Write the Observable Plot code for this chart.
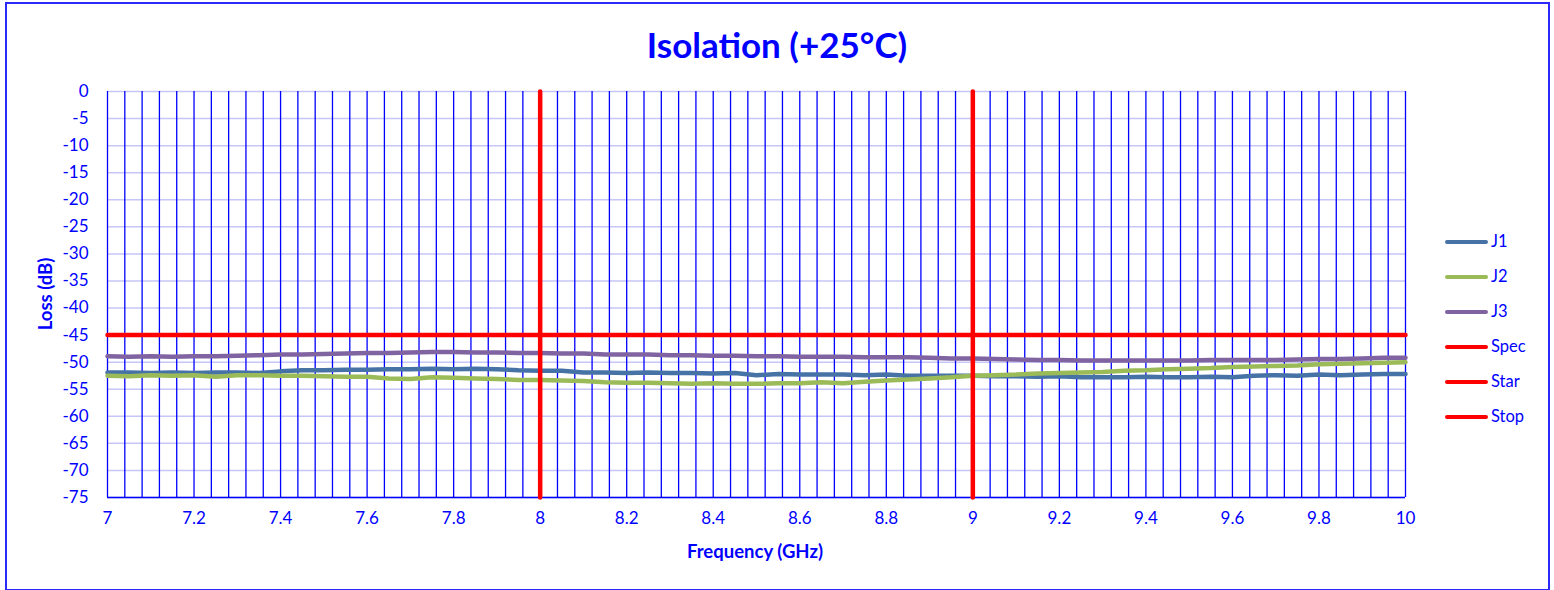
<!DOCTYPE html>
<html><head><meta charset="utf-8">
<script src="https://cdn.jsdelivr.net/npm/d3@7"></script>
<script src="https://cdn.jsdelivr.net/npm/@observablehq/plot@0.6"></script>
<style>
body{margin:0;background:#fff;}
#wrap{position:relative;width:1554px;height:590px;font-family:Lato,"Open Sans",sans-serif;color:#0000ff;overflow:hidden;}
#border{position:absolute;left:5px;top:2px;width:1545px;height:589px;border:2px solid #2a2aff;box-sizing:border-box;pointer-events:none;}
#chart{position:absolute;left:0;top:0;}
#title{position:absolute;left:0;width:1554px;top:22px;text-align:center;font-weight:bold;font-size:35px;line-height:44px;}
#xlabel{position:absolute;left:605px;width:300px;top:539px;text-align:center;font-weight:bold;font-size:18.5px;line-height:24px;}
#ylabel{position:absolute;left:45px;top:294px;transform:translate(-50%,-50%) rotate(-90deg);font-weight:bold;font-size:18.5px;line-height:24px;white-space:nowrap;}
.leg{position:absolute;left:1445px;height:20px;font-size:16.5px;line-height:20px;white-space:nowrap;}
.leg span.sw{display:inline-block;width:43px;height:4px;border-radius:2px;vertical-align:middle;margin-right:3px;position:relative;top:-1px;}
</style></head>
<body>
<div id="wrap">
  <div id="chart"></div>
  <div id="title">Isolation (+25°C)</div>
  <div id="xlabel">Frequency (GHz)</div>
  <div id="ylabel">Loss (dB)</div>
  <div id="legend"></div>
  <div id="border"></div>
</div>
<script>
const freq = [7.00,7.05,7.10,7.15,7.20,7.25,7.30,7.35,7.40,7.45,7.50,7.55,7.60,7.65,7.70,7.75,7.80,7.85,7.90,7.95,
  8.00,8.05,8.10,8.15,8.20,8.25,8.30,8.35,8.40,8.45,8.50,8.55,8.60,8.65,8.70,8.75,8.80,8.85,8.90,8.95,
  9.00,9.05,9.10,9.15,9.20,9.25,9.30,9.35,9.40,9.45,9.50,9.55,9.60,9.65,9.70,9.75,9.80,9.85,9.90,9.95,10.00];
const J1 = [-51.9,-51.9,-52.0,-51.9,-52.0,-51.9,-51.9,-52.0,-51.7,-51.5,-51.5,-51.4,-51.4,-51.3,-51.3,-51.2,-51.3,-51.2,-51.3,-51.5,
  -51.6,-51.6,-51.9,-51.9,-52.0,-51.9,-52.0,-52.0,-52.1,-52.0,-52.4,-52.2,-52.3,-52.3,-52.3,-52.4,-52.3,-52.5,-52.5,-52.5,
  -52.5,-52.6,-52.6,-52.7,-52.6,-52.8,-52.8,-52.8,-52.7,-52.8,-52.8,-52.7,-52.8,-52.5,-52.4,-52.5,-52.3,-52.4,-52.3,-52.2,-52.2];
const J2 = [-52.5,-52.6,-52.4,-52.5,-52.4,-52.7,-52.4,-52.4,-52.5,-52.5,-52.6,-52.7,-52.7,-53.0,-53.1,-52.8,-52.9,-53.0,-53.1,-53.3,
  -53.3,-53.4,-53.5,-53.7,-53.8,-53.8,-53.9,-54.0,-53.9,-54.0,-54.0,-53.9,-53.9,-53.7,-53.9,-53.6,-53.4,-53.2,-53.0,-52.8,
  -52.5,-52.4,-52.3,-52.1,-52.0,-51.9,-51.8,-51.6,-51.5,-51.3,-51.2,-51.1,-50.9,-50.8,-50.7,-50.6,-50.4,-50.3,-50.2,-50.1,-50.0];
const J3 = [-48.9,-49.0,-48.9,-49.0,-48.9,-48.9,-48.8,-48.7,-48.6,-48.6,-48.5,-48.4,-48.3,-48.3,-48.2,-48.1,-48.1,-48.2,-48.2,-48.3,
  -48.3,-48.4,-48.4,-48.6,-48.6,-48.6,-48.7,-48.7,-48.8,-48.8,-48.9,-48.9,-49.0,-49.0,-49.0,-49.1,-49.1,-49.1,-49.2,-49.3,
  -49.3,-49.4,-49.5,-49.6,-49.6,-49.7,-49.7,-49.7,-49.7,-49.7,-49.7,-49.6,-49.6,-49.6,-49.6,-49.5,-49.4,-49.4,-49.3,-49.2,-49.2];
const specF = [7, 10];  const specV = [-45, -45];
const starF = [8, 8];   const starV = [-75, 0];
const stopF = [9, 9];   const stopV = [-75, 0];
const xTicks = [7,7.2,7.4,7.6,7.8,8,8.2,8.4,8.6,8.8,9,9.2,9.4,9.6,9.8,10];
const yTicks = [0,-5,-10,-15,-20,-25,-30,-35,-40,-45,-50,-55,-60,-65,-70,-75];
const seriesNames = ["J1","J2","J3","Spec","Star","Stop"];
const seriesColors = ["#4672a6","#9bbb59","#8064a2","#ff0000","#ff0000","#ff0000"];

const toRows = (xs, ys) => xs.map((x, i) => ({x, y: ys[i]}));
const series = [toRows(freq,J1), toRows(freq,J2), toRows(freq,J3),
  toRows(specF,specV), toRows(starF,starV), toRows(stopF,stopV)];
const gridX = d3.range(76).map(i => +(7 + i * 0.04).toFixed(2));

const chart = Plot.plot({
  width: 1554, height: 590,
  marginLeft: 107, marginRight: 149, marginTop: 91, marginBottom: 93,
  style: {fontFamily: "Lato, 'Open Sans', sans-serif", fontSize: "17px", color: "#0000ff", background: "transparent"},
  x: {domain: [7, 10]},
  y: {domain: [-75, 0]},
  marks: [
    Plot.ruleY(yTicks, {stroke: "#c6c6f7", strokeWidth: 1.5}),
    Plot.ruleX(gridX, {stroke: "#0000ff", strokeWidth: 1.3}),
    Plot.ruleY([-75], {stroke: "#0000ff", strokeWidth: 1.5}),
    ...series.map((d, i) => Plot.line(d, {x: "x", y: "y", stroke: seriesColors[i], strokeWidth: 4.5, strokeLinejoin: "round"})),
    Plot.axisX(xTicks, {tickSize: 0, tickPadding: 14, label: null, fontSize: 17, tickFormat: d => String(+d.toFixed(1))}),
    Plot.axisY(yTicks, {tickSize: 0, tickPadding: 19, label: null, fontSize: 17, tickFormat: d => String(d)})
  ]
});
document.getElementById("chart").appendChild(chart);

const legRows = [241, 276, 311, 346, 381, 416];
const leg = document.getElementById("legend");
seriesNames.forEach((n, i) => {
  const div = document.createElement("div");
  div.className = "leg";
  div.style.top = (legRows[i] - 10) + "px";
  div.innerHTML = `<span class="sw" style="background:${seriesColors[i]}"></span>${n}`;
  leg.appendChild(div);
});
</script>
</body></html>
